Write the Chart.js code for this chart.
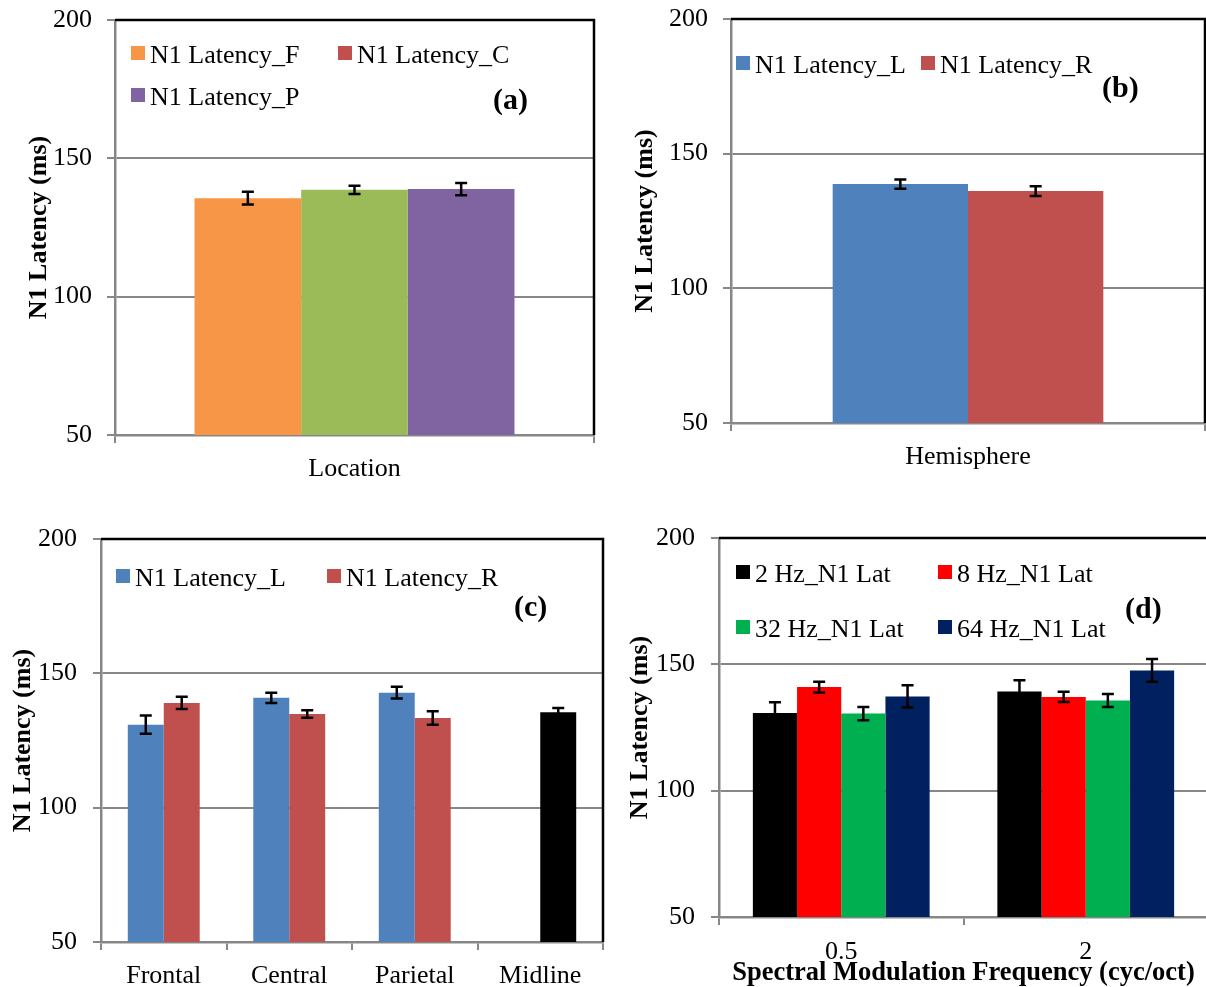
<!DOCTYPE html>
<html>
<head>
<meta charset="utf-8">
<title>N1 Latency</title>
<script src="https://cdn.jsdelivr.net/npm/chart.js@4/dist/chart.umd.min.js"></script>
<style>
  html, body { margin: 0; padding: 0; background: #fff; overflow: hidden; }
  #wrap { position: relative; width: 1206px; height: 987px; overflow: hidden; }
  canvas { position: absolute; }
</style>
</head>
<body>
<div id="wrap">
  <canvas id="panelA" width="603" height="504" style="left:0;top:-12px"></canvas>
  <canvas id="panelB" width="603" height="504" style="left:603px;top:-12px"></canvas>
  <canvas id="panelC" width="606" height="495" style="left:0;top:492px"></canvas>
  <canvas id="panelD" width="606" height="500" style="left:606px;top:492px"></canvas>
</div>
<script>
// ---- data (ms, mean and standard error) ----
const yTicks = [50, 100, 150, 200];

const locationLabels = ['Location'];
const latencyF = [135.6];
const latencyFErr = [2.3];
const latencyC = [138.6];
const latencyCErr = [1.5];
const latencyP = [138.9];
const latencyPErr = [2.2];

const hemisphereLabels = ['Hemisphere'];
const hemiL = [138.7];
const hemiLErr = [1.7];
const hemiR = [136.1];
const hemiRErr = [1.8];

const regionLabels = ['Frontal', 'Central', 'Parietal', 'Midline'];
const regionL = [130.9, 140.9, 142.8, null];
const regionLErr = [3.4, 1.9, 2.2, null];
const regionR = [139.0, 134.9, 133.4, 135.5];
const regionRErr = [2.3, 1.4, 2.5, 1.6];

const smfLabels = ['0.5', '2'];
const lat2Hz = [130.7, 139.2];
const lat2HzErr = [4.3, 4.5];
const lat8Hz = [141.0, 137.1];
const lat8HzErr = [2.1, 2.0];
const lat32Hz = [130.5, 135.7];
const lat32HzErr = [2.6, 2.6];
const lat64Hz = [137.3, 147.6];
const lat64HzErr = [4.4, 4.5];

// ---- styling ----
const SERIF = "'Liberation Serif', 'Times New Roman', serif";
const GRAY = '#878787';
Chart.defaults.font.family = SERIF;
Chart.defaults.font.size = 26;
Chart.defaults.color = '#000';

// Error bars drawn through the value scale
const errorBars = {
  id: 'errorBars',
  afterDatasetsDraw(chart) {
    const ctx = chart.ctx, y = chart.scales.y;
    chart.data.datasets.forEach((ds, i) => {
      if (!ds.errors) return;
      chart.getDatasetMeta(i).data.forEach((bar, j) => {
        const v = ds.data[j], e = ds.errors[j];
        if (v == null || e == null) return;
        const x = bar.x, y1 = y.getPixelForValue(v + e), y2 = y.getPixelForValue(v - e);
        ctx.save();
        ctx.strokeStyle = '#000';
        ctx.lineWidth = 2.5;
        ctx.beginPath();
        ctx.moveTo(x, y1); ctx.lineTo(x, y2);
        ctx.moveTo(x - 6, y1); ctx.lineTo(x + 6, y1);
        ctx.moveTo(x - 6, y2); ctx.lineTo(x + 6, y2);
        ctx.stroke();
        ctx.restore();
      });
    });
  }
};

// Black frame on top/right, in-plot legend and panel tag
const panelDecor = {
  id: 'panelDecor',
  beforeDatasetsDraw(chart) {
    const {ctx, chartArea: a} = chart;
    ctx.save();
    ctx.strokeStyle = '#000';
    ctx.lineWidth = 2.5;
    ctx.beginPath();
    ctx.moveTo(a.left, a.top);
    ctx.lineTo(a.right, a.top);
    ctx.lineTo(a.right, a.bottom);
    ctx.stroke();
    ctx.restore();
  },
  afterDraw(chart, args, opts) {
    const {ctx, chartArea: a} = chart;
    ctx.save();
    ctx.textBaseline = 'alphabetic';
    ctx.textAlign = 'left';
    ctx.font = '26px ' + SERIF;
    (opts.legend || []).forEach((p, i) => {
      const ds = chart.data.datasets[i];
      let c = ds.legendColor || ds.backgroundColor;
      if (Array.isArray(c)) c = c[0];
      ctx.fillStyle = c;
      ctx.fillRect(a.left + p[0], a.top + p[1] - 17, 14, 14);
      ctx.fillStyle = '#000';
      ctx.fillText(ds.label, a.left + p[0] + 19, a.top + p[1]);
    });
    if (opts.tag) {
      ctx.font = 'bold 30px ' + SERIF;
      ctx.fillStyle = '#000';
      ctx.fillText(opts.tag, a.left + opts.tagPos[0], a.top + opts.tagPos[1]);
    }
    ctx.restore();
  }
};

function makeChart(id, cfg) {
  const datasets = cfg.series.map(s => ({
    label: s.label,
    data: s.data,
    errors: s.errors,
    backgroundColor: s.color,
    legendColor: s.legendColor,
    borderWidth: 0,
    categoryPercentage: cfg.catPct,
    barPercentage: 1.0
  }));
  return new Chart(document.getElementById(id), {
    type: 'bar',
    data: { labels: cfg.labels, datasets },
    plugins: [panelDecor, errorBars],
    options: {
      responsive: false,
      animation: false,
      layout: { padding: cfg.padding },
      plugins: {
        legend: { display: false },
        tooltip: { enabled: false },
        panelDecor: { legend: cfg.legendPos, tag: cfg.tag, tagPos: cfg.tagPos }
      },
      scales: {
        x: {
          offset: true,
          grid: { offset: true, drawOnChartArea: false, drawTicks: true, tickLength: 8, color: GRAY, lineWidth: 2 },
          border: { color: GRAY, width: 2.5 },
          ticks: { padding: cfg.xTickPad, maxRotation: 0, font: { size: 26 } },
          title: cfg.xTitle ? { display: true, text: cfg.xTitle, font: { size: 26.5, weight: 'bold' }, padding: { top: 0, bottom: cfg.xTitlePad } } : { display: false },
          afterFit: s => { s.height = cfg.xHeight; }
        },
        y: {
          min: yTicks[0],
          max: yTicks[yTicks.length - 1],
          afterBuildTicks: s => { s.ticks = yTicks.map(v => ({ value: v })); },
          grid: {
            color: c => (c.tick && c.tick.value === yTicks[yTicks.length - 1]) ? 'rgba(0,0,0,0)' : GRAY,
            tickColor: GRAY,
            lineWidth: 2,
            tickLength: 8
          },
          border: { color: GRAY, width: 2.5 },
          ticks: { padding: cfg.yTickPad, font: { size: 26 } },
          title: { display: true, text: 'N1 Latency (ms)', font: { size: 26, weight: 'bold' }, padding: { top: cfg.yTitlePad, bottom: 0 } },
          afterFit: s => { s.width = cfg.yWidth; }
        }
      }
    }
  });
}

// (a) latency by electrode location
makeChart('panelA', {
  labels: locationLabels,
  series: [
    { label: 'N1 Latency_F', data: latencyF, errors: latencyFErr, color: '#F79646' },
    { label: 'N1 Latency_C', data: latencyC, errors: latencyCErr, color: '#9BBB59', legendColor: '#C0504D' },
    { label: 'N1 Latency_P', data: latencyP, errors: latencyPErr, color: '#8064A2' }
  ],
  catPct: 0.668,
  padding: { top: 32, right: 9, left: 0, bottom: 0 },
  yWidth: 115, xHeight: 57,
  xTickPad: 11, yTickPad: 15, yTitlePad: 24,
  legendPos: [[16, 43], [223, 43], [16, 85]],
  tag: '(a)', tagPos: [378, 89]
});

// (b) latency by hemisphere
makeChart('panelB', {
  labels: hemisphereLabels,
  series: [
    { label: 'N1 Latency_L', data: hemiL, errors: hemiLErr, color: '#4F81BD' },
    { label: 'N1 Latency_R', data: hemiR, errors: hemiRErr, color: '#C0504D' }
  ],
  catPct: 0.571,
  padding: { top: 31, right: 1, left: 0, bottom: 0 },
  yWidth: 128, xHeight: 69,
  xTickPad: 11, yTickPad: 15, yTitlePad: 27,
  legendPos: [[5, 54], [190, 54]],
  tag: '(b)', tagPos: [371, 78]
});

// (c) latency by region and hemisphere
makeChart('panelC', {
  labels: regionLabels,
  series: [
    { label: 'N1 Latency_L', data: regionL, errors: regionLErr, color: '#4F81BD' },
    { label: 'N1 Latency_R', data: regionR, errors: regionRErr, color: ['#C0504D', '#C0504D', '#C0504D', '#000000'] }
  ],
  catPct: 0.573,
  padding: { top: 47, right: 3, left: 0, bottom: 0 },
  yWidth: 101, xHeight: 45,
  xTickPad: 11, yTickPad: 16, yTitlePad: 8,
  legendPos: [[15, 47], [226, 47]],
  tag: '(c)', tagPos: [413, 77]
});

// (d) latency by spectral modulation frequency and rate
makeChart('panelD', {
  labels: smfLabels,
  series: [
    { label: '2 Hz_N1 Lat', data: lat2Hz, errors: lat2HzErr, color: '#000000' },
    { label: '8 Hz_N1 Lat', data: lat8Hz, errors: lat8HzErr, color: '#FF0000' },
    { label: '32 Hz_N1 Lat', data: lat32Hz, errors: lat32HzErr, color: '#00B050' },
    { label: '64 Hz_N1 Lat', data: lat64Hz, errors: lat64HzErr, color: '#002060' }
  ],
  catPct: 0.723,
  padding: { top: 46, right: 4, left: 0, bottom: 0 },
  yWidth: 113, xHeight: 75,
  xTickPad: 12, yTickPad: 16, yTitlePad: 19,
  xTitle: 'Spectral Modulation Frequency (cyc/oct)', xTitlePad: 3,
  legendPos: [[17, 44], [219, 44], [17, 99], [219, 99]],
  tag: '(d)', tagPos: [406, 80]
});
</script>
</body>
</html>
